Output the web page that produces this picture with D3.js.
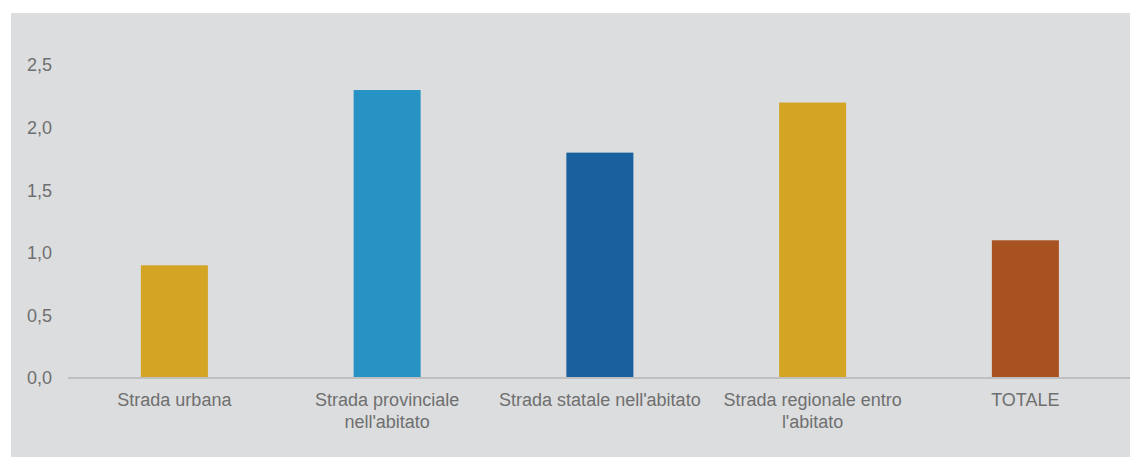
<!DOCTYPE html>
<html><head><meta charset="utf-8">
<script src="https://cdn.jsdelivr.net/npm/d3@7"></script>
<style>html,body{margin:0;padding:0;background:#fff;}svg{display:block;}</style>
</head><body>
<script>
const categories = ["Strada urbana", "Strada provinciale nell'abitato", "Strada statale nell'abitato", "Strada regionale entro l'abitato", "TOTALE"];
const labelLines = [["Strada urbana"], ["Strada provinciale", "nell'abitato"], ["Strada statale nell'abitato"], ["Strada regionale entro", "l'abitato"], ["TOTALE"]];
const values = [0.9, 2.3, 1.8, 2.2, 1.1];
const colors = ["#D4A425", "#2793C5", "#1A5F9E", "#D4A425", "#A85222"];
const yTicks = [0, 0.5, 1.0, 1.5, 2.0, 2.5];

const W = 1130, H = 458;
const svg = d3.select("body").append("svg").attr("width", W).attr("height", H);
svg.append("rect").attr("x", 11).attr("y", 13).attr("width", W - 11).attr("height", H - 14).attr("fill", "#DCDDDF");

const x = d3.scaleBand().domain(categories).range([68, 1131.75]).paddingInner(0.685).paddingOuter(0.3425);
const y = d3.scaleLinear().domain([0, 2.8]).range([378, 378 - 2.8 * 125.2]);

svg.selectAll("rect.bar").data(values).join("rect").attr("class", "bar")
  .attr("x", (d, i) => x(categories[i]))
  .attr("width", x.bandwidth())
  .attr("y", d => y(d))
  .attr("height", d => y(0) - y(d))
  .attr("fill", (d, i) => colors[i]);

// axis line
svg.append("line").attr("x1", 68).attr("x2", W).attr("y1", y(0)).attr("y2", y(0))
  .attr("stroke", "#BFBFBF").attr("stroke-width", 2);

const font = "'Liberation Sans', Arial, sans-serif";
svg.selectAll("text.ytick").data(yTicks).join("text").attr("class", "ytick")
  .attr("x", 52).attr("y", d => y(d)).attr("dy", "0.35em")
  .attr("text-anchor", "end").attr("font-family", font).attr("font-size", 18).attr("fill", "#6F6F6F")
  .text(d => d3.format(".1f")(d).replace(".", ","));

const g = svg.selectAll("text.xlab").data(categories).join("text").attr("class", "xlab")
  .attr("text-anchor", "middle").attr("font-family", font).attr("font-size", 18).attr("fill", "#6F6F6F");
g.each(function(d, i) {
  const cx = x(d) + x.bandwidth() / 2;
  d3.select(this).selectAll("tspan").data(labelLines[i]).join("tspan")
    .attr("x", cx).attr("y", (t, j) => 400 + j * 21.5).attr("dy", "0.35em").text(t => t);
});
</script>
</body></html>
